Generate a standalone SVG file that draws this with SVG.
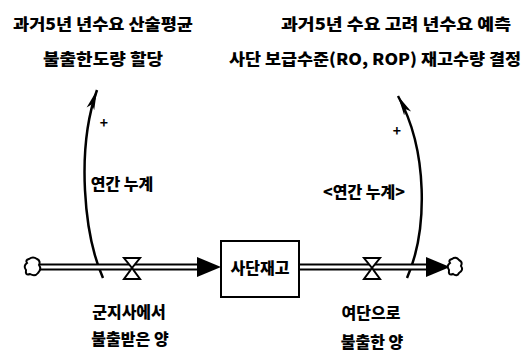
<svg xmlns="http://www.w3.org/2000/svg" width="529" height="358" viewBox="0 0 529 358">
<style>
text{font-family:"Noto Sans CJK KR","Noto Sans",sans-serif;font-weight:900;fill:#000;text-anchor:middle;dominant-baseline:central}
.t{font-size:16px}
.pipeo{stroke:#000;stroke-width:7;fill:none}
.pipei{stroke:#fff;stroke-width:3;fill:none}
.link{stroke:#000;stroke-width:2.5;fill:none}
.plus{font-size:14px;font-weight:700}
</style>
<defs>
<marker id="ah" markerWidth="22" markerHeight="10" refX="20" refY="5" orient="auto" markerUnits="userSpaceOnUse">
<path d="M0,1 L20,5 L0,9 L5,5 Z" fill="#000"/>
</marker>
</defs>
<g id="connectors">
<path class="link" d="M103,278 C84,235 76,150 97,90" marker-end="url(#ah)"/>
<path class="link" d="M407,278 C428,230 428,150 398,96" marker-end="url(#ah)"/>
<text class="plus" x="104" y="122">+</text>
<text class="plus" x="397" y="130">+</text>
<text class="t" x="122" y="183">연간 누계</text>
<text class="t" x="364" y="191">&lt;연간 누계&gt;</text>
</g>
<g id="flow-in">
<line class="pipeo" x1="40" y1="267" x2="203" y2="267"/>
<line class="pipei" x1="40" y1="267" x2="203" y2="267"/>
<path d="M197,257 L221,267 L197,277 Z" fill="#000"/>
<path d="M124,258 L140,258 L132,268 L140,279 L124,279 L132,268 Z" fill="#fff" stroke="#000" stroke-width="2"/>
<text class="t" x="129" y="311">군지사에서</text>
<text class="t" x="130" y="338">불출받은 양</text>
</g>
<g id="flow-out">
<line class="pipeo" x1="299" y1="267" x2="432" y2="267"/>
<line class="pipei" x1="299" y1="267" x2="432" y2="267"/>
<path d="M426,257 L450,267 L426,277 Z" fill="#000"/>
<path d="M364,258 L380,258 L372,268 L380,279 L364,279 L372,268 Z" fill="#fff" stroke="#000" stroke-width="2"/>
<text class="t" x="371" y="312">여단으로</text>
<text class="t" x="372" y="341">불출한 양</text>
</g>
<g id="source-cloud">
<path d="M29,259 Q33,256 37,259 Q41,261 39,265 Q42,269 38,273 Q35,277 30,274 Q25,276 26,270 Q23,266 27,263 Q25,260 29,259 Z" fill="#fff" stroke="#000" stroke-width="2"/>
</g>
<g id="sink-cloud">
<path d="M452,259 Q456,256 459,260 Q463,262 461,266 Q464,270 459,273 Q457,277 453,274 Q448,276 449,270 Q446,266 450,263 Q448,260 452,259 Z" fill="#fff" stroke="#000" stroke-width="2"/>
</g>
<g id="stock">
<rect x="221" y="241" width="78" height="56" fill="#fff" stroke="#000" stroke-width="2"/>
<text class="t" x="260" y="267">사단재고</text>
</g>
<g id="var-left">
<text class="t" x="103" y="23" textLength="180" lengthAdjust="spacingAndGlyphs">과거5년 년수요 산술평균</text>
<text class="t" x="103" y="58" textLength="120" lengthAdjust="spacingAndGlyphs">불출한도량 할당</text>
</g>
<g id="var-right">
<text class="t" x="396" y="23" textLength="230" lengthAdjust="spacingAndGlyphs">과거5년 수요 고려 년수요 예측</text>
<text class="t" x="375" y="58" textLength="292" lengthAdjust="spacingAndGlyphs">사단 보급수준(RO, ROP) 재고수량 결정</text>
</g>
</svg>
